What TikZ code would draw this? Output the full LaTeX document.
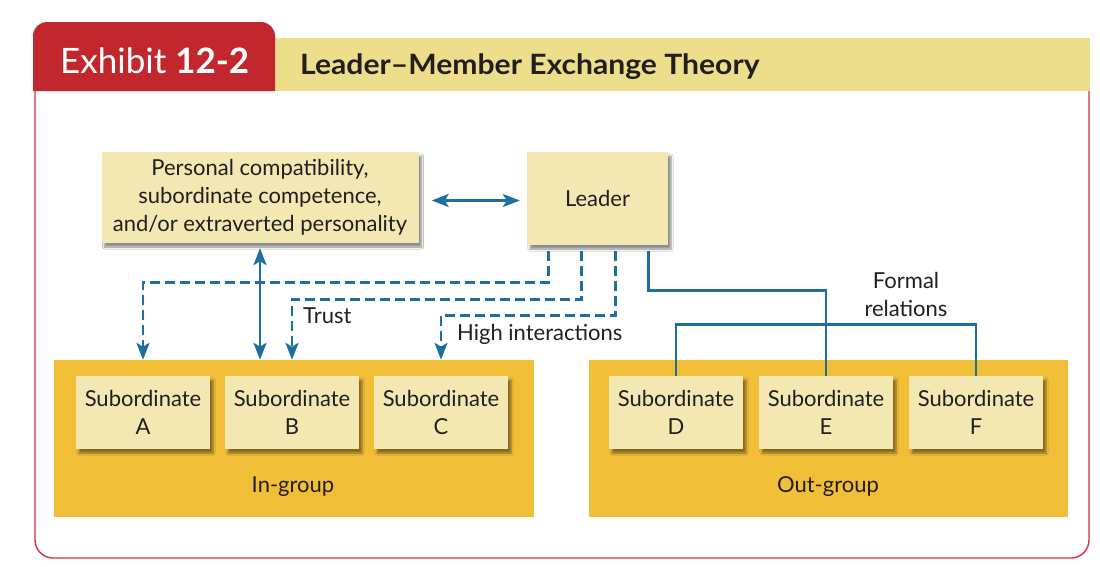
\documentclass[tikz,border=0pt]{standalone}
\usepackage{fontspec}
\setmainfont{Lato}
\usetikzlibrary{shadows.blur,arrows.meta}
\definecolor{exred}{HTML}{C1272D}
\definecolor{bandcol}{HTML}{EDDE8B}
\definecolor{boxfill}{HTML}{F3E8B2}
\definecolor{grpfill}{HTML}{F1BE38}
\definecolor{lnblue}{HTML}{1E6E9F}
\definecolor{framecol}{HTML}{D0343F}
\definecolor{txt}{HTML}{231F20}
\begin{document}
\begin{tikzpicture}[x=1pt,y=-1pt,
  box/.style={fill=boxfill, draw=none,
    blur shadow={shadow xshift=3pt,shadow yshift=-4pt,shadow blur steps=6,shadow opacity=45},
    align=center, inner sep=0pt, font=\fontsize{22}{28}\selectfont, text=txt},
  grp/.style={fill=grpfill, draw=none, inner sep=0pt},
  lnk/.style={draw=lnblue, line width=2.8pt},
  dlnk/.style={lnk, dash pattern=on 10pt off 5pt},
  tipend/.style={-{Stealth[length=17pt,width=13pt,inset=4pt]}},
  tipboth/.style={{Stealth[length=17pt,width=13pt,inset=4pt]}-{Stealth[length=17pt,width=13pt,inset=4pt]}},
  lbl/.style={font=\fontsize{22}{28}\selectfont, text=txt, align=center, inner sep=0pt}
]
\useasboundingbox (0,0) rectangle (1100,566);
\fill[white] (0,0) rectangle (1100,566);
% frame
\draw[framecol, line width=1.4pt, rounded corners=18pt] (35,70) rectangle (1089,558);
% title band and tab
\fill[bandcol] (275,38) rectangle (1090,91);
\fill[exred] (33,60) [rounded corners=14pt] -- (33,22) -- (275,22) -- (275,60) [sharp corners] -- (275,91) -- (33,91) -- cycle;
\node[anchor=base west, inner sep=0pt, text=white, font=\fontsize{35}{40}\selectfont] (exh) at (60,73) {Exhibit \textbf{12-2}};
\node[anchor=base west, inner sep=0pt, text=txt, font=\bfseries\fontsize{28}{32}\selectfont] (title) at (300,74) {\scalebox{1.075}[1]{Leader–Member Exchange Theory}};
% groups
\node[grp, minimum width=480pt, minimum height=157pt] (ingrp) at (294,438.5) {};
\node[grp, minimum width=479pt, minimum height=157pt] (outgrp) at (828.5,438.5) {};
\node[lbl] (inlbl) at (293,487) {In-group};
\node[lbl] (outlbl) at (828,487) {Out-group};
% subordinates
\foreach \n/\x in {A/143,B/292,C/441,D/676,E/826,F/976}{
  \node[box, minimum width=134pt, minimum height=73pt] (\n) at (\x,412.5) {Subordinate\\\n};
}
% top boxes
\node[box, minimum width=317pt, minimum height=91pt] (pers) at (260,197.5) {Personal compatibility,\\subordinate competence,\\and/or extraverted personality};
\node[box, minimum width=141pt, minimum height=93pt] (lead) at (597.5,198.5) {Leader};
% connectors
\draw[lnk, tipboth, shorten <=13pt, shorten >=7pt] ([yshift=-3pt]pers.east) -- ([yshift=-3pt]pers.east -| lead.west);
\draw[lnk, tipboth] ([yshift=-5pt]pers.south) -- (pers.south |- ingrp.north);
\draw[dlnk, tipend] ([xshift=22pt,yshift=-6pt]lead.south west) -- ++(0,31) -| (A.north |- ingrp.north);
\draw[dlnk, tipend] ([xshift=55pt,yshift=-6pt]lead.south west) -- ++(0,48) -| (B.north |- ingrp.north);
\draw[dlnk, tipend] ([xshift=89pt,yshift=-6pt]lead.south west) -- ++(0,64) -| (C.north |- ingrp.north);
\draw[lnk] ([xshift=-20pt,yshift=-6pt]lead.south east) -- ++(0,39) -| (E.north);
\draw[lnk] (D.north) -- ++(0,-51) -| (F.north);
% labels
\node[lbl, anchor=west] (trust) at (303,316) {Trust};
\node[lbl, anchor=west] (hi) at (457,334) {High interactions};
\node[lbl] (formal) at (906,294) {Formal\\relations};
\end{tikzpicture}
\end{document}
